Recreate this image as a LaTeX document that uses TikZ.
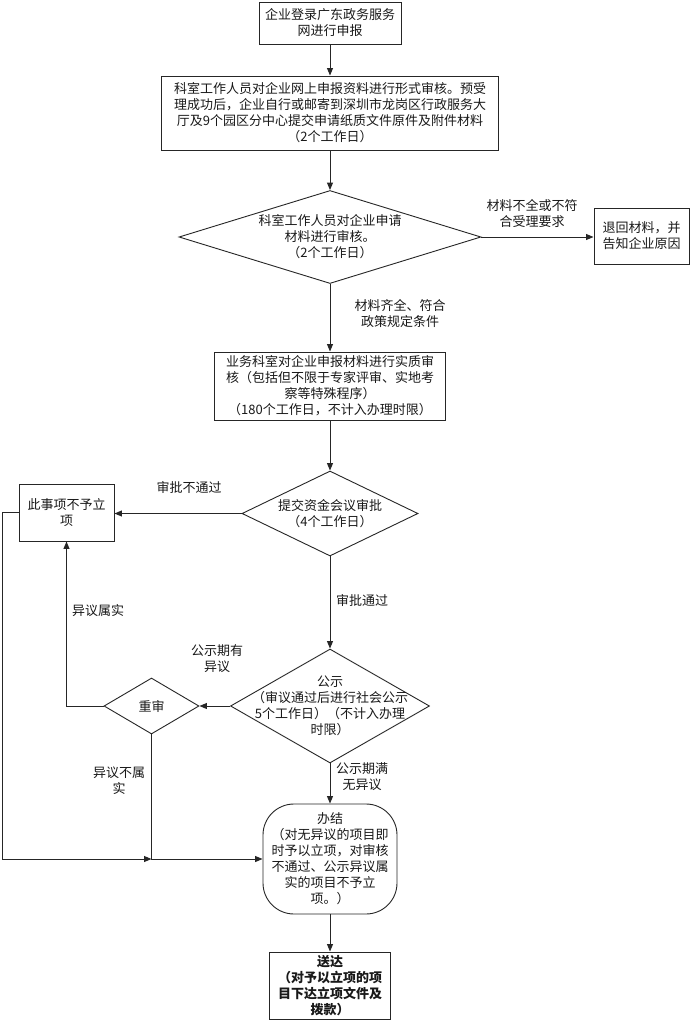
\documentclass[tikz,border=0pt]{standalone}
\usepackage{fontspec}
\setmainfont{Noto Sans CJK SC}
\usetikzlibrary{shapes.geometric,arrows.meta}
\begin{document}
\begin{tikzpicture}[x=1pt,y=-1pt,
  every node/.style={font=\fontsize{13}{16}\selectfont, align=center, text=black!90},
  box/.style={draw=black!85, line width=0.95pt, rectangle, inner sep=0pt},
  dia/.style={draw=black!85, line width=0.9pt, diamond, inner sep=0pt},
  lbl/.style={inner sep=0pt},
  arr/.style={draw=black!85, line width=1pt, -{Triangle[length=7.5pt,width=6pt]}}
]
\useasboundingbox (0,0) rectangle (690,1023);
\fill[white] (0,0) rectangle (690,1023);

\node[box, minimum width=142, minimum height=42] (b1) at (330,23) {企业登录广东政务服务\\网进行申报};
\node[box, minimum width=337, minimum height=74] (b2) at (330,113) {科室工作人员对企业网上申报资料进行形式审核。预受\\理成功后，企业自行或邮寄到深圳市龙岗区行政服务大\\厅及9个园区分中心提交申请纸质文件原件及附件材料\\（2个工作日）};
\node[dia, minimum width=302, minimum height=93,
  label={[lbl, align=center]center:科室工作人员对企业申请\\材料进行审核。\\（2个工作日）}] (d1) at (330,237) {};
\node[box, minimum width=95, minimum height=56] (ret) at (641.5,236) {退回材料，并\\告知企业原因};
\node[box, minimum width=231, minimum height=68] (b3) at (330,386) {业务科室对企业申报材料进行实质审\\核（包括但不限于专家评审、实地考\\察等特殊程序）\\（180个工作日，不计入办理时限）};
\node[dia, minimum width=176, minimum height=85,
  label={[lbl, align=center]center:提交资金会议审批\\（4个工作日）}] (d2) at (330,513.5) {};
\node[box, minimum width=95, minimum height=57] (no) at (66.5,512.5) {此事项不予立\\项};
\node[dia, minimum width=199, minimum height=114,
  label={[lbl, align=center]center:公示\\（审议通过后进行社会公示\\5个工作日）（不计入办理\\时限）}] (d3) at (330,706) {};
\node[dia, minimum width=95, minimum height=56,
  label={[lbl]center:重审}] (re) at (151.5,706) {};
\node[draw=black!85, line width=0.9pt, rectangle, rounded corners=31pt, inner sep=0pt,
  minimum width=134, minimum height=110] (bj) at (330,859) {办结\\（对无异议的项目即\\时予以立项，对审核\\不通过、公示异议属\\实的项目不予立\\项。）};
\node[box, minimum width=121, minimum height=67, font=\fontsize{13}{16}\selectfont\bfseries] (sd) at (330,985.5) {送达\\（对予以立项的项\\目下达立项文件及\\拨款）};

% labels
\node[lbl] (l1) at (532,213.5) {材料不全或不符\\合受理要求};
\node[lbl] (l2) at (400,313.5) {材料齐全、符合\\政策规定条件};
\node[lbl] (l3) at (189,487) {审批不通过};
\node[lbl] (l4) at (362,600) {审批通过};
\node[lbl] (l5) at (217,659) {公示期有\\异议};
\node[lbl] (l6) at (98,611) {异议属实};
\node[lbl] (l7) at (119,781) {异议不属\\实};
\node[lbl] (l8) at (362,777) {公示期满\\无异议};

% connectors
\coordinate (lx) at (2,0);
\draw[arr] (b1.south) -- (b2.north);
\draw[arr] (b2.south) -- (d1.north);
\draw[arr] (d1.east) -- (d1.east -| ret.west);
\draw[arr] (d1.south) -- (b3.north);
\draw[arr] (b3.south) -- (d2.north);
\draw[arr] (d2.west) -- (d2.west -| no.east);
\draw[arr] (d2.south) -- (d3.north);
\draw[arr] (d3.west) -- (re.east);
\draw[arr] (re.west) -| (no.south);
\draw[arr] (no.west) -- (no.west -| lx) |- (re.south |- bj.west);
\draw[arr] (re.south) |- (bj.west);
\draw[arr] (d3.south) -- (bj.north);
\draw[arr] (bj.south) -- (sd.north);
\end{tikzpicture}
\end{document}
